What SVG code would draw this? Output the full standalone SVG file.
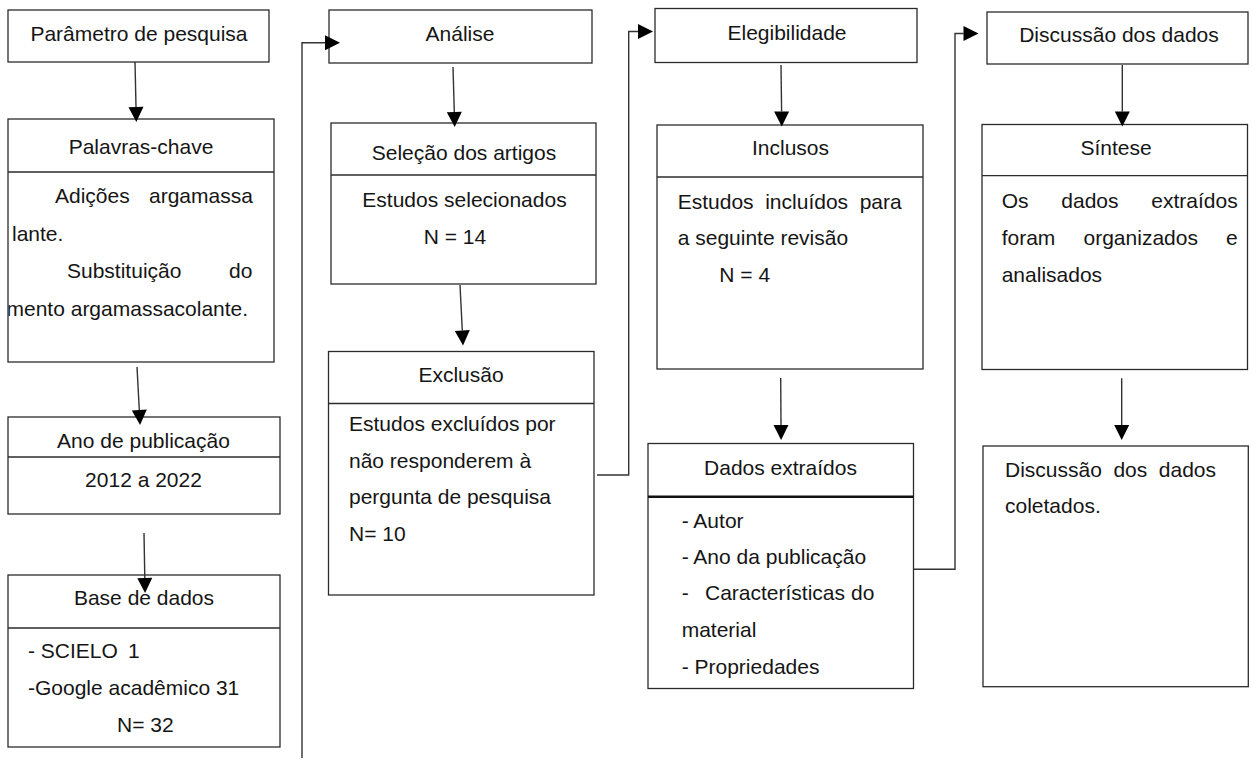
<svg xmlns="http://www.w3.org/2000/svg" width="1252" height="760" viewBox="0 0 1252 760">
<style>
  .box { fill: #ffffff; stroke: #2b2b2b; stroke-width: 1.3; }
  .div { stroke: #2b2b2b; stroke-width: 1.3; fill: none; }
  .thick { stroke: #111; stroke-width: 2.6; fill: none; }
  .t { font-family: "Liberation Sans", Arial, sans-serif; font-size: 21px; fill: #151515; }
  .c { text-anchor: middle; }
  .con { stroke: #333; stroke-width: 1.4; fill: none; }
</style>
<defs>
  <marker id="ah" markerUnits="userSpaceOnUse" markerWidth="16" markerHeight="16" refX="0" refY="7.5" orient="auto" overflow="visible">
    <path d="M0,0 L15,7.5 L0,15 Z" fill="#000"/>
  </marker>
  <clipPath id="clipPal">
    <rect x="8.6" y="172" width="265" height="190"/>
  </clipPath>
</defs>
<rect width="1252" height="760" fill="#ffffff"/>

<g id="parametro">
  <rect class="box" x="8" y="10" width="261" height="52"/>
  <text class="t c" x="139" y="41">Parâmetro de pesquisa</text>
</g>

<g id="palavras">
  <rect class="box" x="8" y="119" width="266" height="243"/>
  <line class="div" x1="8" y1="172" x2="274" y2="172"/>
  <text class="t c" x="141" y="154">Palavras-chave</text>
  <g clip-path="url(#clipPal)">
    <text class="t" y="203"><tspan x="55">Adições</tspan><tspan x="149">argamassa</tspan></text>
    <text class="t" x="12" y="241">lante.</text>
    <text class="t" y="278"><tspan x="67">Substituição</tspan><tspan x="229">do</tspan></text>
    <text class="t" x="6.5" y="316">mento argamassacolante.</text>
  </g>
</g>

<g id="ano">
  <rect class="box" x="8" y="417" width="272" height="97"/>
  <line class="div" x1="8" y1="457" x2="280" y2="457"/>
  <text class="t c" x="143.5" y="448">Ano de publicação</text>
  <text class="t c" x="143.5" y="487">2012 a 2022</text>
</g>

<g id="base">
  <rect class="box" x="8" y="575" width="272" height="172"/>
  <line class="div" x1="8" y1="628" x2="280" y2="628"/>
  <text class="t c" x="144" y="605">Base de dados</text>
  <text class="t" x="28" y="658">- SCIELO</text>
  <text class="t" x="128" y="658">1</text>
  <text class="t" x="28" y="695">-Google acadêmico 31</text>
  <text class="t" x="117" y="732">N= 32</text>
</g>

<g id="analise">
  <rect class="box" x="329" y="10" width="263" height="53"/>
  <text class="t c" x="460" y="41">Análise</text>
</g>

<g id="selecao">
  <rect class="box" x="331" y="123" width="265" height="161"/>
  <line class="div" x1="331" y1="175" x2="596" y2="175"/>
  <text class="t c" x="464" y="160">Seleção dos artigos</text>
  <text class="t c" x="464.5" y="207">Estudos selecionados</text>
  <text class="t c" x="455" y="243.5">N = 14</text>
</g>

<g id="exclusao">
  <rect class="box" x="328.5" y="351.5" width="265.5" height="243.5"/>
  <line class="div" x1="328.5" y1="403.5" x2="594" y2="403.5"/>
  <text class="t c" x="461" y="382">Exclusão</text>
  <text class="t" x="349" y="431">Estudos excluídos por</text>
  <text class="t" x="349" y="467.5">não responderem à</text>
  <text class="t" x="349" y="504">pergunta de pesquisa</text>
  <text class="t" x="349" y="540.5">N= 10</text>
</g>

<g id="elegibilidade">
  <rect class="box" x="655" y="8.5" width="262" height="54"/>
  <text class="t c" x="787" y="40">Elegibilidade</text>
</g>

<g id="inclusos">
  <rect class="box" x="657" y="125" width="266" height="244"/>
  <line class="div" x1="657" y1="177" x2="923" y2="177"/>
  <text class="t c" x="790.5" y="155">Inclusos</text>
  <text class="t" y="208.5"><tspan x="677.7">Estudos</tspan><tspan x="765.2">incluídos</tspan><tspan x="859.7">para</tspan></text>
  <text class="t" x="677.7" y="245">a seguinte revisão</text>
  <text class="t" x="719.3" y="281.7">N = 4</text>
</g>

<g id="dados">
  <rect class="box" x="648" y="443.5" width="265.5" height="245"/>
  <line class="thick" x1="648" y1="496.7" x2="913.5" y2="496.7"/>
  <text class="t c" x="780.5" y="475">Dados extraídos</text>
  <text class="t" x="681.7" y="528.3">- Autor</text>
  <text class="t" x="681.7" y="563.8">- Ano da publicação</text>
  <text class="t" y="600"><tspan x="681.7">-</tspan><tspan x="705">Características</tspan><tspan x="851">do</tspan></text>
  <text class="t" x="681.7" y="636.7">material</text>
  <text class="t" x="681.7" y="673.5">- Propriedades</text>
</g>

<g id="discussao">
  <rect class="box" x="987" y="12" width="261" height="52"/>
  <text class="t c" x="1119" y="41.7">Discussão dos dados</text>
</g>

<g id="sintese">
  <rect class="box" x="982" y="124.5" width="265.5" height="245"/>
  <line class="div" x1="982" y1="175.7" x2="1247.5" y2="175.7"/>
  <text class="t c" x="1116" y="155">Síntese</text>
  <text class="t" y="208.3"><tspan x="1001.7">Os</tspan><tspan x="1061.3">dados</tspan><tspan x="1151.3">extraídos</tspan></text>
  <text class="t" y="245"><tspan x="1001.7">foram</tspan><tspan x="1083.5">organizados</tspan><tspan x="1226">e</tspan></text>
  <text class="t" x="1001.7" y="281.7">analisados</text>
</g>

<g id="discussao-coletados">
  <rect class="box" x="983" y="446" width="265.3" height="240.7"/>
  <text class="t" y="476.7"><tspan x="1005">Discussão</tspan><tspan x="1113.4">dos</tspan><tspan x="1158.8">dados</tspan></text>
  <text class="t" x="1005" y="513.3">coletados.</text>
</g>

<g id="connectors">
  <line class="con" x1="135" y1="62" x2="136" y2="107" marker-end="url(#ah)"/>
  <line class="con" x1="137" y1="367" x2="139.3" y2="410" marker-end="url(#ah)"/>
  <line class="con" x1="144" y1="533" x2="144.8" y2="578" marker-end="url(#ah)"/>
  <path class="con" d="M302,758 V42.7 H325" marker-end="url(#ah)"/>
  <line class="con" x1="453" y1="67" x2="454.3" y2="112" marker-end="url(#ah)"/>
  <line class="con" x1="460" y1="285" x2="462.3" y2="330.5" marker-end="url(#ah)"/>
  <path class="con" d="M597,475 H628.7 V31.5 H638" marker-end="url(#ah)"/>
  <line class="con" x1="781" y1="65" x2="781.6" y2="111.5" marker-end="url(#ah)"/>
  <line class="con" x1="780.7" y1="378" x2="781" y2="425" marker-end="url(#ah)"/>
  <path class="con" d="M913.5,569.3 H955 V33.5 H963.5" marker-end="url(#ah)"/>
  <line class="con" x1="1122.3" y1="65" x2="1122.3" y2="111.5" marker-end="url(#ah)"/>
  <line class="con" x1="1121.7" y1="378.3" x2="1121.7" y2="425" marker-end="url(#ah)"/>
</g>
</svg>
